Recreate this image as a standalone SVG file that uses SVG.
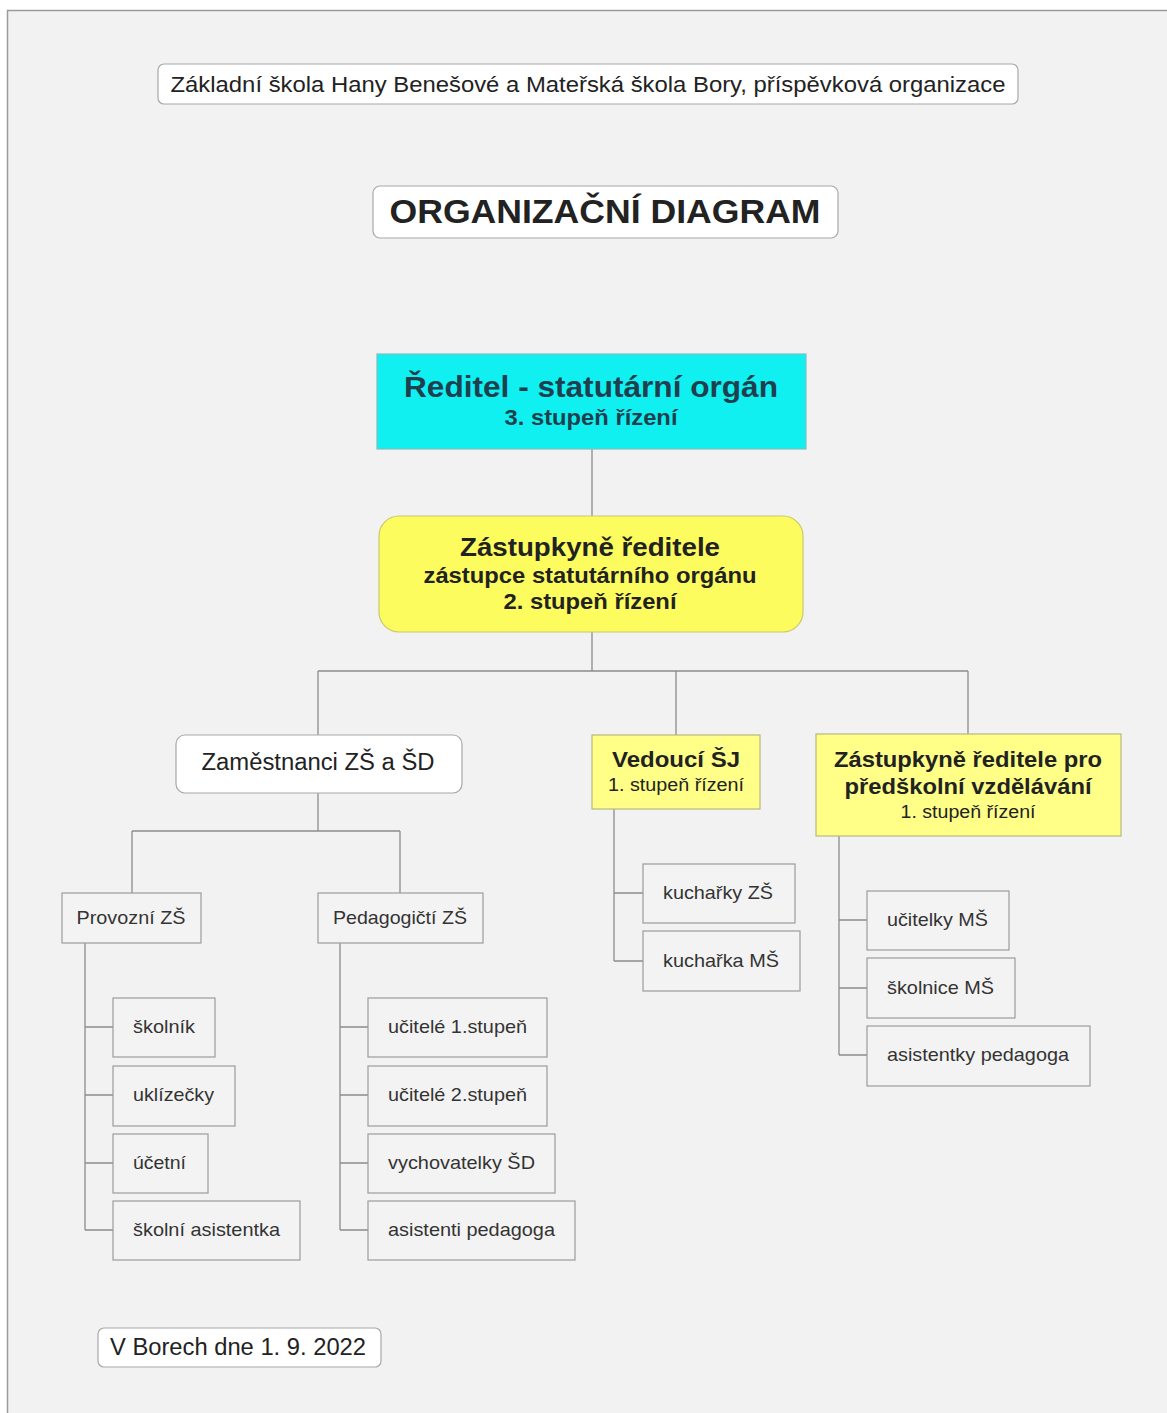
<svg xmlns="http://www.w3.org/2000/svg" width="1167" height="1413" viewBox="0 0 1167 1413">
<defs>
<style>
text{font-family:"Liberation Sans",Arial,sans-serif;fill:#222}
.page{fill:#f2f2f2;stroke:#9a9a9a;stroke-width:1.5}
.lbl{fill:#fff;stroke:#a8a8a8;stroke-width:1.2}
.leaf{fill:#f3f3f3;stroke:#9c9c9c;stroke-width:1.2}
.y1{fill:#ffff88;stroke:#b8b880;stroke-width:1.2}
.conn{fill:none;stroke:#8c8c8c;stroke-width:1.3}
.lt{font-size:18.5px;fill:#333}
.b{font-weight:bold}
.c{text-anchor:middle}
</style>
</defs>
<rect x="0" y="0" width="1167" height="1413" fill="#ffffff"/>
<rect class="page" x="7.5" y="10.5" width="1170" height="1420"/>

<g id="connectors">
<path class="conn" d="M592 449V516"/>
<path class="conn" d="M592 632V671M318 671H968M318 671V735M676 671V735M968 671V734"/>
<path class="conn" d="M318 793V831M132 831H400M132 831V893M400 831V893"/>
<path class="conn" d="M85 943V1230M85 1027H113M85 1095H113M85 1163H113M85 1230H113"/>
<path class="conn" d="M340 943V1230M340 1027H368M340 1095H368M340 1163H368M340 1230H368"/>
<path class="conn" d="M614 809V961M614 893H643M614 961H643"/>
<path class="conn" d="M839 836V1055M839 920H867M839 988H867M839 1055H867"/>
</g>

<g id="header">
<rect class="lbl" x="158" y="64" width="860" height="40" rx="6"/>
<text class="c" x="588" y="92" font-size="22" textLength="835" lengthAdjust="spacingAndGlyphs">Základní škola Hany Benešové a Mateřská škola Bory, příspěvková organizace</text>
</g>

<g id="title">
<rect class="lbl" x="373" y="186" width="465" height="52" rx="7"/>
<text class="c b" x="605" y="223" font-size="34" fill="#111" textLength="431" lengthAdjust="spacingAndGlyphs">ORGANIZAČNÍ DIAGRAM</text>
</g>

<g id="reditel">
<rect x="377" y="354" width="429" height="95" fill="#10f0f0" stroke="#7fbfbf" stroke-width="1.2"/>
<text class="c b" x="591" y="397" font-size="30" style="fill:#1f3f4f" textLength="374" lengthAdjust="spacingAndGlyphs">Ředitel - statutární orgán</text>
<text class="c b" x="591" y="425" font-size="22" style="fill:#1f3f4f" textLength="173" lengthAdjust="spacingAndGlyphs">3. stupeň řízení</text>
</g>

<g id="zastupkyne">
<rect x="379" y="516" width="424" height="116" rx="20" fill="#fdfc5e" stroke="#c8c870" stroke-width="1.2"/>
<text class="c b" x="590" y="556" font-size="26" textLength="260" lengthAdjust="spacingAndGlyphs">Zástupkyně ředitele</text>
<text class="c b" x="590" y="583" font-size="22" textLength="333" lengthAdjust="spacingAndGlyphs">zástupce statutárního orgánu</text>
<text class="c b" x="590" y="609" font-size="22" textLength="173" lengthAdjust="spacingAndGlyphs">2. stupeň řízení</text>
</g>

<g id="zamestnanci">
<rect class="lbl" x="176" y="735" width="286" height="58" rx="9"/>
<text class="c" x="318" y="770" font-size="23" textLength="233" lengthAdjust="spacingAndGlyphs">Zaměstnanci ZŠ a ŠD</text>
</g>

<g id="vedouci-sj">
<rect class="y1" x="592" y="735" width="168" height="74"/>
<text class="c b" x="676" y="767" font-size="22" textLength="128" lengthAdjust="spacingAndGlyphs">Vedoucí ŠJ</text>
<text class="c" x="676" y="791" font-size="18" fill="#333" textLength="136" lengthAdjust="spacingAndGlyphs">1. stupeň řízení</text>
</g>

<g id="zastupkyne-ms">
<rect class="y1" x="816" y="734" width="305" height="102"/>
<text class="c b" x="968" y="767" font-size="22" textLength="268" lengthAdjust="spacingAndGlyphs">Zástupkyně ředitele pro</text>
<text class="c b" x="968" y="794" font-size="22" textLength="247" lengthAdjust="spacingAndGlyphs">předškolní vzdělávání</text>
<text class="c" x="968" y="818" font-size="18" fill="#333" textLength="135" lengthAdjust="spacingAndGlyphs">1. stupeň řízení</text>
</g>

<g id="provozni">
<rect class="leaf" x="62" y="893" width="139" height="50"/>
<text class="c lt" x="131" y="924" textLength="109" lengthAdjust="spacingAndGlyphs">Provozní ZŠ</text>
</g>
<g id="pedagogicti">
<rect class="leaf" x="318" y="893" width="165" height="50"/>
<text class="c lt" x="400" y="924" textLength="134" lengthAdjust="spacingAndGlyphs">Pedagogičtí ZŠ</text>
</g>

<g id="skolnik"><rect class="leaf" x="113" y="998" width="102" height="59"/><text class="lt" x="133" y="1033" textLength="62" lengthAdjust="spacingAndGlyphs">školník</text></g>
<g id="uklizecky"><rect class="leaf" x="113" y="1066" width="122" height="60"/><text class="lt" x="133" y="1101" textLength="81" lengthAdjust="spacingAndGlyphs">uklízečky</text></g>
<g id="ucetni"><rect class="leaf" x="113" y="1134" width="95" height="59"/><text class="lt" x="133" y="1169" textLength="53" lengthAdjust="spacingAndGlyphs">účetní</text></g>
<g id="skolni-asistentka"><rect class="leaf" x="113" y="1201" width="187" height="59"/><text class="lt" x="133" y="1236" textLength="147" lengthAdjust="spacingAndGlyphs">školní asistentka</text></g>

<g id="ucitele1"><rect class="leaf" x="368" y="998" width="179" height="59"/><text class="lt" x="388" y="1033" textLength="139" lengthAdjust="spacingAndGlyphs">učitelé 1.stupeň</text></g>
<g id="ucitele2"><rect class="leaf" x="368" y="1066" width="179" height="60"/><text class="lt" x="388" y="1101" textLength="139" lengthAdjust="spacingAndGlyphs">učitelé 2.stupeň</text></g>
<g id="vychovatelky"><rect class="leaf" x="368" y="1134" width="187" height="59"/><text class="lt" x="388" y="1169" textLength="147" lengthAdjust="spacingAndGlyphs">vychovatelky ŠD</text></g>
<g id="asistenti"><rect class="leaf" x="368" y="1201" width="207" height="59"/><text class="lt" x="388" y="1236" textLength="167" lengthAdjust="spacingAndGlyphs">asistenti pedagoga</text></g>

<g id="kucharky-zs"><rect class="leaf" x="643" y="864" width="152" height="59"/><text class="lt" x="663" y="899" textLength="110" lengthAdjust="spacingAndGlyphs">kuchařky ZŠ</text></g>
<g id="kucharka-ms"><rect class="leaf" x="643" y="931" width="157" height="60"/><text class="lt" x="663" y="967" textLength="116" lengthAdjust="spacingAndGlyphs">kuchařka MŠ</text></g>

<g id="ucitelky-ms"><rect class="leaf" x="867" y="891" width="142" height="59"/><text class="lt" x="887" y="926" textLength="101" lengthAdjust="spacingAndGlyphs">učitelky MŠ</text></g>
<g id="skolnice-ms"><rect class="leaf" x="867" y="958" width="148" height="60"/><text class="lt" x="887" y="994" textLength="107" lengthAdjust="spacingAndGlyphs">školnice MŠ</text></g>
<g id="asistentky"><rect class="leaf" x="867" y="1026" width="223" height="60"/><text class="lt" x="887" y="1061" textLength="182" lengthAdjust="spacingAndGlyphs">asistentky pedagoga</text></g>

<g id="datum">
<rect class="lbl" x="98" y="1328" width="283" height="39" rx="6"/>
<text x="110" y="1355" font-size="23" textLength="256" lengthAdjust="spacingAndGlyphs">V Borech dne 1. 9. 2022</text>
</g>
</svg>
